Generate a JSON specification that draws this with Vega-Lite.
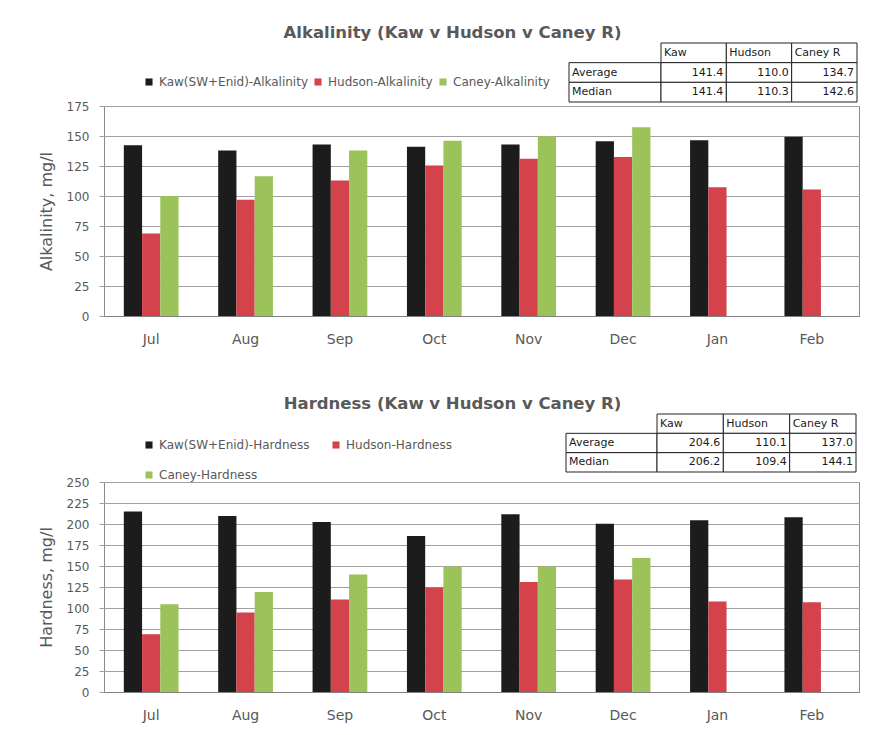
{
  "$schema": "https://vega.github.io/schema/vega-lite/v6.json",
  "padding": {"left": 37, "top": 24, "right": 5, "bottom": 5},
  "resolve": {"scale": {"color": "independent", "xOffset": "independent", "x": "independent", "y": "independent"}, "legend": {"color": "independent"}},
  "config": {
    "font": "DejaVu Sans",
    "view": {"stroke": "#8c8c8c", "strokeWidth": 1},
    "axis": {"labelFont": "DejaVu Sans", "labelColor": "#595959", "titleFont": "DejaVu Sans", "titleColor": "#595959", "gridColor": "#a0a0a0", "tickColor": "#a0a0a0"},
    "concat": {"spacing": 48}
  },
  "datasets": {
    "alk": [
      {"month": "Jul", "series": "Kaw(SW+Enid)-Alkalinity", "value": 142.3},
      {"month": "Jul", "series": "Hudson-Alkalinity", "value": 68.7},
      {"month": "Jul", "series": "Caney-Alkalinity", "value": 100.0},
      {"month": "Aug", "series": "Kaw(SW+Enid)-Alkalinity", "value": 138.0},
      {"month": "Aug", "series": "Hudson-Alkalinity", "value": 96.8},
      {"month": "Aug", "series": "Caney-Alkalinity", "value": 116.5},
      {"month": "Sep", "series": "Kaw(SW+Enid)-Alkalinity", "value": 143.0},
      {"month": "Sep", "series": "Hudson-Alkalinity", "value": 113.0},
      {"month": "Sep", "series": "Caney-Alkalinity", "value": 138.0},
      {"month": "Oct", "series": "Kaw(SW+Enid)-Alkalinity", "value": 141.0},
      {"month": "Oct", "series": "Hudson-Alkalinity", "value": 125.4},
      {"month": "Oct", "series": "Caney-Alkalinity", "value": 146.0},
      {"month": "Nov", "series": "Kaw(SW+Enid)-Alkalinity", "value": 143.0},
      {"month": "Nov", "series": "Hudson-Alkalinity", "value": 131.0},
      {"month": "Nov", "series": "Caney-Alkalinity", "value": 149.8},
      {"month": "Dec", "series": "Kaw(SW+Enid)-Alkalinity", "value": 145.7},
      {"month": "Dec", "series": "Hudson-Alkalinity", "value": 132.6},
      {"month": "Dec", "series": "Caney-Alkalinity", "value": 157.3},
      {"month": "Jan", "series": "Kaw(SW+Enid)-Alkalinity", "value": 146.5},
      {"month": "Jan", "series": "Hudson-Alkalinity", "value": 107.3},
      {"month": "Feb", "series": "Kaw(SW+Enid)-Alkalinity", "value": 149.3},
      {"month": "Feb", "series": "Hudson-Alkalinity", "value": 105.4}
    ],
    "hard": [
      {"month": "Jul", "series": "Kaw(SW+Enid)-Hardness", "value": 215.0},
      {"month": "Jul", "series": "Hudson-Hardness", "value": 68.7},
      {"month": "Jul", "series": "Caney-Hardness", "value": 104.4},
      {"month": "Aug", "series": "Kaw(SW+Enid)-Hardness", "value": 209.5},
      {"month": "Aug", "series": "Hudson-Hardness", "value": 94.5},
      {"month": "Aug", "series": "Caney-Hardness", "value": 119.0},
      {"month": "Sep", "series": "Kaw(SW+Enid)-Hardness", "value": 202.4},
      {"month": "Sep", "series": "Hudson-Hardness", "value": 110.0},
      {"month": "Sep", "series": "Caney-Hardness", "value": 139.8},
      {"month": "Oct", "series": "Kaw(SW+Enid)-Hardness", "value": 185.7},
      {"month": "Oct", "series": "Hudson-Hardness", "value": 124.3},
      {"month": "Oct", "series": "Caney-Hardness", "value": 149.3},
      {"month": "Nov", "series": "Kaw(SW+Enid)-Hardness", "value": 211.5},
      {"month": "Nov", "series": "Hudson-Hardness", "value": 131.0},
      {"month": "Nov", "series": "Caney-Hardness", "value": 149.3},
      {"month": "Dec", "series": "Kaw(SW+Enid)-Hardness", "value": 200.4},
      {"month": "Dec", "series": "Hudson-Hardness", "value": 133.8},
      {"month": "Dec", "series": "Caney-Hardness", "value": 159.5},
      {"month": "Jan", "series": "Kaw(SW+Enid)-Hardness", "value": 204.4},
      {"month": "Jan", "series": "Hudson-Hardness", "value": 107.6},
      {"month": "Feb", "series": "Kaw(SW+Enid)-Hardness", "value": 208.0},
      {"month": "Feb", "series": "Hudson-Hardness", "value": 106.8}
    ],
    "alkTable": [
      {"row": "hdr", "col": "Kaw", "text": "Kaw"},
      {"row": "hdr", "col": "Hudson", "text": "Hudson"},
      {"row": "hdr", "col": "Caney R", "text": "Caney R"},
      {"row": "Average", "col": "lbl", "text": "Average"},
      {"row": "Average", "col": "Kaw", "text": "141.4"},
      {"row": "Average", "col": "Hudson", "text": "110.0"},
      {"row": "Average", "col": "Caney R", "text": "134.7"},
      {"row": "Median", "col": "lbl", "text": "Median"},
      {"row": "Median", "col": "Kaw", "text": "141.4"},
      {"row": "Median", "col": "Hudson", "text": "110.3"},
      {"row": "Median", "col": "Caney R", "text": "142.6"}
    ],
    "hardTable": [
      {"row": "hdr", "col": "Kaw", "text": "Kaw"},
      {"row": "hdr", "col": "Hudson", "text": "Hudson"},
      {"row": "hdr", "col": "Caney R", "text": "Caney R"},
      {"row": "Average", "col": "lbl", "text": "Average"},
      {"row": "Average", "col": "Kaw", "text": "204.6"},
      {"row": "Average", "col": "Hudson", "text": "110.1"},
      {"row": "Average", "col": "Caney R", "text": "137.0"},
      {"row": "Median", "col": "lbl", "text": "Median"},
      {"row": "Median", "col": "Kaw", "text": "206.2"},
      {"row": "Median", "col": "Hudson", "text": "109.4"},
      {"row": "Median", "col": "Caney R", "text": "144.1"}
    ]
  },
  "vconcat": [
    {
      "width": 755,
      "height": 210,
      "title": {"text": "Alkalinity (Kaw v Hudson v Caney R)", "font": "DejaVu Sans", "fontSize": 16.5, "fontWeight": "bold", "color": "#595959", "anchor": "middle", "dx": -29, "offset": 1},
      "layer": [
        {
          "data": {"name": "alk"},
          "mark": {"type": "bar"},
          "encoding": {
            "x": {"field": "month", "type": "nominal", "sort": ["Jul", "Aug", "Sep", "Oct", "Nov", "Dec", "Jan", "Feb"], "scale": {"paddingInner": 0.42, "paddingOuter": 0.21}, "axis": {"title": null, "labelAngle": 0, "ticks": false, "labelPadding": 16, "labelFontSize": 14, "domainColor": "#808080", "grid": false}},
            "xOffset": {"field": "series", "type": "nominal", "sort": ["Kaw(SW+Enid)-Alkalinity", "Hudson-Alkalinity", "Caney-Alkalinity"], "scale": {"paddingInner": 0, "paddingOuter": 0}},
            "y": {"field": "value", "type": "quantitative", "scale": {"domain": [0, 175], "nice": false}, "axis": {"title": "Alkalinity, mg/l", "titleFontSize": 16, "titleFontWeight": "normal", "titlePadding": 12, "values": [0, 25, 50, 75, 100, 125, 150, 175], "labelFontSize": 12, "tickSize": 5, "labelPadding": 10, "domain": false}},
            "color": {"field": "series", "type": "nominal", "sort": ["Kaw(SW+Enid)-Alkalinity", "Hudson-Alkalinity", "Caney-Alkalinity"], "scale": {"range": ["#1c1c1c", "#d4434b", "#9bc35a"]}, "legend": {"title": null, "orient": "none", "legendX": 39, "legendY": -30, "direction": "horizontal", "columns": 3, "columnPadding": 4, "symbolType": "square", "symbolSize": 50, "symbolStrokeWidth": 0, "labelFont": "DejaVu Sans", "labelFontSize": 12, "labelColor": "#595959", "padding": 0}}
          }
        },
        {
          "data": {"name": "alkTable"},
          "encoding": {
            "y": {"field": "row", "type": "nominal", "sort": ["hdr", "Average", "Median"], "scale": {"domain": ["hdr", "Average", "Median"], "range": [-63, -4], "paddingInner": 0, "paddingOuter": 0}, "axis": null}
          },
          "layer": [
            {
              "transform": [{"filter": "datum.col == 'lbl'"}],
              "mark": {"type": "rect", "fill": "white", "stroke": "#222222", "strokeWidth": 1},
              "encoding": {"x": {"field": "col", "type": "nominal", "scale": {"domain": ["lbl"], "range": [465, 557], "paddingInner": 0, "paddingOuter": 0}, "axis": null}}
            },
            {
              "transform": [{"filter": "datum.col != 'lbl'"}],
              "mark": {"type": "rect", "fill": "white", "stroke": "#222222", "strokeWidth": 1},
              "encoding": {"x": {"field": "col", "type": "nominal", "scale": {"domain": ["Kaw", "Hudson", "Caney R"], "range": [557, 753], "paddingInner": 0, "paddingOuter": 0}, "axis": null}}
            },
            {
              "transform": [{"filter": "datum.col == 'lbl'"}],
              "mark": {"type": "text", "align": "left", "baseline": "middle", "dx": -43, "fontSize": 11, "color": "#1a1a1a", "font": "DejaVu Sans"},
              "encoding": {"x": {"field": "col", "type": "nominal", "scale": {"domain": ["lbl"], "range": [465, 557], "paddingInner": 0, "paddingOuter": 0}, "axis": null}, "text": {"field": "text"}}
            },
            {
              "transform": [{"filter": "datum.row == 'hdr'"}],
              "mark": {"type": "text", "align": "left", "baseline": "middle", "dx": -29.7, "fontSize": 11, "color": "#1a1a1a", "font": "DejaVu Sans"},
              "encoding": {"x": {"field": "col", "type": "nominal", "scale": {"domain": ["Kaw", "Hudson", "Caney R"], "range": [557, 753], "paddingInner": 0, "paddingOuter": 0}, "axis": null}, "text": {"field": "text"}}
            },
            {
              "transform": [{"filter": "datum.row != 'hdr' && datum.col != 'lbl'"}],
              "mark": {"type": "text", "align": "right", "baseline": "middle", "dx": 29.7, "fontSize": 11, "color": "#1a1a1a", "font": "DejaVu Sans"},
              "encoding": {"x": {"field": "col", "type": "nominal", "scale": {"domain": ["Kaw", "Hudson", "Caney R"], "range": [557, 753], "paddingInner": 0, "paddingOuter": 0}, "axis": null}, "text": {"field": "text"}}
            }
          ],
          "resolve": {"scale": {"x": "independent"}}
        }
      ],
      "resolve": {"scale": {"x": "independent", "y": "independent"}}
    },
    {
      "width": 755,
      "height": 210,
      "title": {"text": "Hardness (Kaw v Hudson v Caney R)", "font": "DejaVu Sans", "fontSize": 16.5, "fontWeight": "bold", "color": "#595959", "anchor": "middle", "dx": -29, "offset": 1},
      "layer": [
        {
          "data": {"name": "hard"},
          "mark": {"type": "bar"},
          "encoding": {
            "x": {"field": "month", "type": "nominal", "sort": ["Jul", "Aug", "Sep", "Oct", "Nov", "Dec", "Jan", "Feb"], "scale": {"paddingInner": 0.42, "paddingOuter": 0.21}, "axis": {"title": null, "labelAngle": 0, "ticks": false, "labelPadding": 16, "labelFontSize": 14, "domainColor": "#808080", "grid": false}},
            "xOffset": {"field": "series", "type": "nominal", "sort": ["Kaw(SW+Enid)-Hardness", "Hudson-Hardness", "Caney-Hardness"], "scale": {"paddingInner": 0, "paddingOuter": 0}},
            "y": {"field": "value", "type": "quantitative", "scale": {"domain": [0, 250], "nice": false}, "axis": {"title": "Hardness, mg/l", "titleFontSize": 16, "titleFontWeight": "normal", "titlePadding": 12, "values": [0, 25, 50, 75, 100, 125, 150, 175, 200, 225, 250], "labelFontSize": 12, "tickSize": 5, "labelPadding": 10, "domain": false}},
            "color": {"field": "series", "type": "nominal", "sort": ["Kaw(SW+Enid)-Hardness", "Hudson-Hardness", "Caney-Hardness"], "scale": {"range": ["#1c1c1c", "#d4434b", "#9bc35a"]}, "legend": {"title": null, "orient": "none", "legendX": 39, "legendY": -43, "direction": "horizontal", "columns": 2, "columnPadding": 20, "rowPadding": 18, "symbolType": "square", "symbolSize": 50, "symbolStrokeWidth": 0, "labelFont": "DejaVu Sans", "labelFontSize": 12, "labelColor": "#595959", "padding": 0}}
          }
        },
        {
          "data": {"name": "hardTable"},
          "encoding": {
            "y": {"field": "row", "type": "nominal", "sort": ["hdr", "Average", "Median"], "scale": {"domain": ["hdr", "Average", "Median"], "range": [-68, -10], "paddingInner": 0, "paddingOuter": 0}, "axis": null}
          },
          "layer": [
            {
              "transform": [{"filter": "datum.col == 'lbl'"}],
              "mark": {"type": "rect", "fill": "white", "stroke": "#222222", "strokeWidth": 1},
              "encoding": {"x": {"field": "col", "type": "nominal", "scale": {"domain": ["lbl"], "range": [462, 553], "paddingInner": 0, "paddingOuter": 0}, "axis": null}}
            },
            {
              "transform": [{"filter": "datum.col != 'lbl'"}],
              "mark": {"type": "rect", "fill": "white", "stroke": "#222222", "strokeWidth": 1},
              "encoding": {"x": {"field": "col", "type": "nominal", "scale": {"domain": ["Kaw", "Hudson", "Caney R"], "range": [553, 752], "paddingInner": 0, "paddingOuter": 0}, "axis": null}}
            },
            {
              "transform": [{"filter": "datum.col == 'lbl'"}],
              "mark": {"type": "text", "align": "left", "baseline": "middle", "dx": -42.5, "fontSize": 11, "color": "#1a1a1a", "font": "DejaVu Sans"},
              "encoding": {"x": {"field": "col", "type": "nominal", "scale": {"domain": ["lbl"], "range": [462, 553], "paddingInner": 0, "paddingOuter": 0}, "axis": null}, "text": {"field": "text"}}
            },
            {
              "transform": [{"filter": "datum.row == 'hdr'"}],
              "mark": {"type": "text", "align": "left", "baseline": "middle", "dx": -30.2, "fontSize": 11, "color": "#1a1a1a", "font": "DejaVu Sans"},
              "encoding": {"x": {"field": "col", "type": "nominal", "scale": {"domain": ["Kaw", "Hudson", "Caney R"], "range": [553, 752], "paddingInner": 0, "paddingOuter": 0}, "axis": null}, "text": {"field": "text"}}
            },
            {
              "transform": [{"filter": "datum.row != 'hdr' && datum.col != 'lbl'"}],
              "mark": {"type": "text", "align": "right", "baseline": "middle", "dx": 30.2, "fontSize": 11, "color": "#1a1a1a", "font": "DejaVu Sans"},
              "encoding": {"x": {"field": "col", "type": "nominal", "scale": {"domain": ["Kaw", "Hudson", "Caney R"], "range": [553, 752], "paddingInner": 0, "paddingOuter": 0}, "axis": null}, "text": {"field": "text"}}
            }
          ],
          "resolve": {"scale": {"x": "independent"}}
        }
      ],
      "resolve": {"scale": {"x": "independent", "y": "independent"}}
    }
  ]
}
